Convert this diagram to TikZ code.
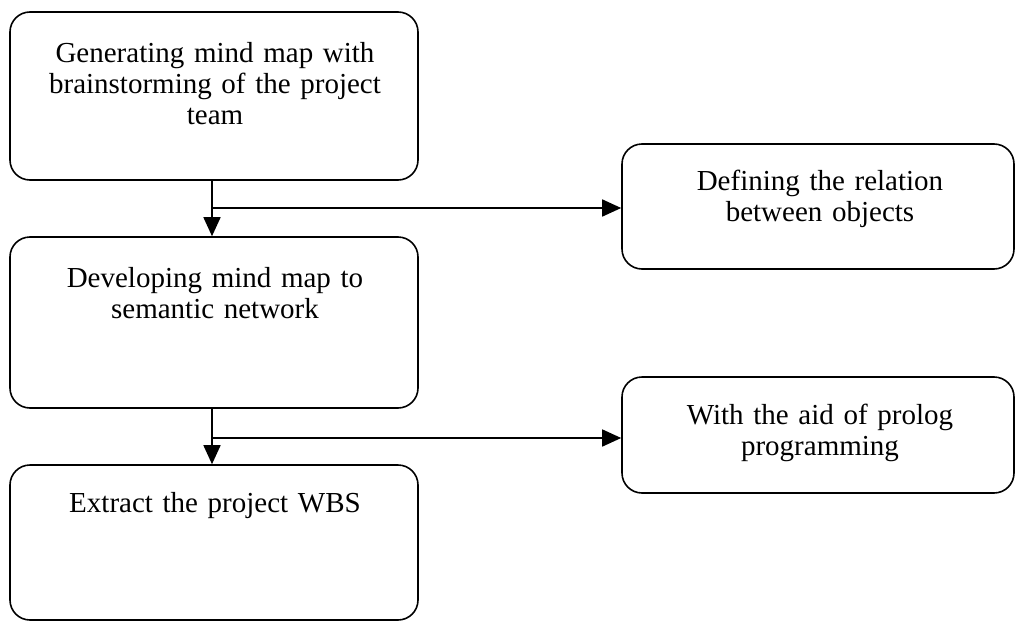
\documentclass[tikz,border=0pt]{standalone}
\usepackage{fontspec}
\setmainfont{Liberation Serif}
\usetikzlibrary{arrows.meta}
\begin{document}
\begin{tikzpicture}[x=1pt,y=-1pt,
  box/.style={draw=black,line width=1.6pt,rounded corners=20pt,fill=none,inner sep=0pt},
  txt/.style={anchor=base,align=center,text width=400pt,inner sep=0pt,
    font=\fontsize{29}{31}\selectfont},
  arr/.style={line width=1.6pt,-{Triangle[length=19pt,width=17pt]}},
  lin/.style={line width=1.6pt}]
\useasboundingbox (0,0) rectangle (1015,621);
% boxes
\node[box,minimum width=408pt,minimum height=168pt] (b1) at (214,96) {};
\node[box,minimum width=408pt,minimum height=171pt] (b2) at (214,322.5) {};
\node[box,minimum width=408pt,minimum height=155pt] (b3) at (214,542.5) {};
\node[box,minimum width=392pt,minimum height=125pt] (r1) at (818,206.5) {};
\node[box,minimum width=392pt,minimum height=116pt] (r2) at (818,435) {};
% texts
\node[txt] (t1) at (215,62) {Generating mind map with\\brainstorming of the project\\team};
\node[txt] (t2) at (215,287) {Developing mind map to\\semantic network};
\node[txt] (t3) at (215,512) {Extract the project WBS};
\node[txt] (t4) at (820,190) {Defining the relation\\between objects};
\node[txt] (t5) at (820,424) {With the aid of prolog\\programming};
% connectors
\coordinate (j1) at (212,208);
\coordinate (j2) at (212,438);
\draw[arr] (b1.south -| j1) -- (b2.north -| j1);
\draw[arr] (j1) -- (r1.west |- j1);
\draw[arr] (b2.south -| j2) -- (b3.north -| j2);
\draw[arr] (j2) -- (r2.west |- j2);
\end{tikzpicture}
\end{document}
